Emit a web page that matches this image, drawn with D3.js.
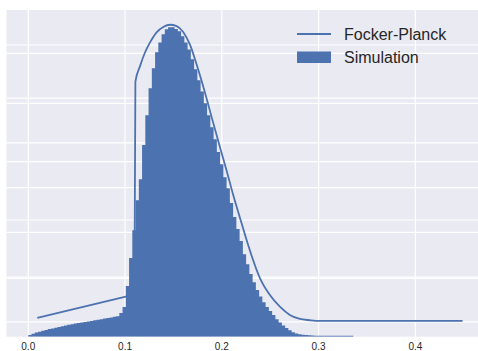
<!DOCTYPE html>
<meta charset="utf-8">
<html>
  <head>
    <style>
      body { margin: 0; background: #fff; }
      text { font-family: "Liberation Sans", Arial, sans-serif; fill: #262626; }
      .tick-label { font-size: 10px; }
      .legend-label { font-size: 16px; }
    </style>
    <script src="https://d3js.org/d3.v7.min.js"></script>
  </head>
  <body>
    <div id="chart"></div>
    <script type="text/javascript">
      // histogram: 100 bins from 0 to 0.336 (density)
      var binStart = 0.0,
          binWidth = 0.00336;
      var simDensity = [
        0.06, 0.10, 0.14, 0.17, 0.20, 0.23, 0.26, 0.28, 0.31, 0.33,
        0.36, 0.38, 0.41, 0.43, 0.45, 0.47, 0.49, 0.50, 0.52, 0.54,
        0.56, 0.58, 0.60, 0.62, 0.64, 0.66, 0.68, 0.70, 0.81, 1.02,
        1.74, 2.70, 3.65, 4.68, 5.40, 6.57, 7.59, 8.52, 9.20, 9.75,
        10.09, 10.37, 10.54, 10.61, 10.61, 10.55, 10.47, 10.30, 10.09, 9.85,
        9.51, 9.17, 8.79, 8.41, 8.00, 7.59, 7.18, 6.77, 6.33, 5.91,
        5.47, 5.09, 4.58, 4.10, 3.69, 3.28, 2.83, 2.48, 2.15, 1.87,
        1.60, 1.38, 1.18, 1.02, 0.88, 0.74, 0.60, 0.49, 0.38, 0.30,
        0.22, 0.15, 0.11, 0.085, 0.07, 0.06, 0.05, 0.04, 0.035, 0.03,
        0.03, 0.03, 0.03, 0.03, 0.03, 0.03, 0.03, 0.03, 0.03, 0.03
      ];

      // Fokker-Planck solution (own y axis)
      var fpX = [0.0093, 0.104, 0.1097, 0.1107, 0.1154, 0.1206, 0.1257, 0.1326, 0.1395, 0.1464,
                 0.1533, 0.1601, 0.1670, 0.1740, 0.1808, 0.1911, 0.1980, 0.2050, 0.2115, 0.2187,
                 0.2249, 0.2308, 0.2394, 0.2497, 0.2600, 0.2703, 0.2807, 0.2910, 0.3013, 0.4488];
      var fpY = [0.089, 0.58, 0.61, 5.37, 5.71, 6.02, 6.24, 6.47, 6.59, 6.64,
                 6.61, 6.48, 6.20, 5.75, 5.26, 4.45, 3.91, 3.38, 2.86, 2.33,
                 1.88, 1.48, 0.98, 0.60, 0.34, 0.157, 0.067, 0.038, 0.022, 0.022];

      var xTicks = [0.0, 0.1, 0.2, 0.3, 0.4],
          histTicks = [2, 4, 6, 8, 10],
          fpTicks = [0, 1, 2, 3, 4, 5, 6];

      var width = 478, height = 351,
          plot = { left: 6.5, right: 485.5, top: 10, bottom: 336.7 },
          blue = "#4c72b0";

      var svg = d3.select("#chart").append("svg")
          .attr("width", width)
          .attr("height", height);

      var x = d3.scaleLinear().domain([-0.0225, 0.4725]).range([plot.left, plot.right]);
      var yHist = d3.scaleLinear().domain([0, 11.2]).range([plot.bottom, plot.top]);
      var yFp = d3.scaleLinear().domain([-0.33, 6.97]).range([plot.bottom, plot.top]);

      svg.append("clipPath").attr("id", "clip")
        .append("rect")
          .attr("x", plot.left).attr("y", plot.top)
          .attr("width", plot.right - plot.left).attr("height", plot.bottom - plot.top);

      svg.append("rect")
          .attr("x", plot.left).attr("y", plot.top)
          .attr("width", plot.right - plot.left).attr("height", plot.bottom - plot.top)
          .style("fill", "#eaeaf2");

      var g = svg.append("g").attr("clip-path", "url(#clip)");

      // grid lines (both y axes draw their own)
      g.selectAll(".xgrid").data(xTicks).enter().append("line")
          .attr("x1", function(d) { return x(d); }).attr("x2", function(d) { return x(d); })
          .attr("y1", plot.top).attr("y2", plot.bottom)
          .style("stroke", "#fff").style("stroke-width", 1.2);

      g.selectAll(".hgrid").data(histTicks).enter().append("line")
          .attr("x1", plot.left).attr("x2", plot.right)
          .attr("y1", function(d) { return yHist(d); }).attr("y2", function(d) { return yHist(d); })
          .style("stroke", "#fff").style("stroke-width", 1.2);

      g.selectAll(".fgrid").data(fpTicks).enter().append("line")
          .attr("x1", plot.left).attr("x2", plot.right)
          .attr("y1", function(d) { return yFp(d); }).attr("y2", function(d) { return yFp(d); })
          .style("stroke", "#fff").style("stroke-width", 1.2);

      // Fokker-Planck line (drawn first, histogram goes on top)
      var fpData = fpX.map(function(d, i) { return [d, fpY[i]]; });
      g.append("path")
          .datum(fpData)
          .attr("d", d3.line()
            .x(function(d) { return x(d[0]); })
            .y(function(d) { return yFp(d[1]); })
            .curve(d3.curveMonotoneX))
          .style("fill", "none")
          .style("stroke", blue)
          .style("stroke-width", 1.8);

      // stepfilled histogram as one polygon
      var steps = simDensity.map(function(d, i) { return [binStart + i * binWidth, d]; });
      steps.push([binStart + simDensity.length * binWidth, simDensity[simDensity.length - 1]]);
      g.append("path")
          .datum(steps)
          .attr("d", d3.area()
            .x(function(d) { return x(d[0]); })
            .y0(yHist(0))
            .y1(function(d) { return yHist(d[1]); })
            .curve(d3.curveStepAfter))
          .style("fill", blue)
          .style("stroke", "none");

      // x tick labels
      svg.selectAll(".tick-label").data(xTicks).enter().append("text")
          .attr("class", "tick-label")
          .attr("x", function(d) { return x(d); })
          .attr("y", 350)
          .style("text-anchor", "middle")
          .text(function(d) { return d.toFixed(1); });

      // legend
      var legend = svg.append("g").attr("transform", "translate(297,0)");
      legend.append("line")
          .attr("x1", 0).attr("x2", 34).attr("y1", 34).attr("y2", 34)
          .style("stroke", blue).style("stroke-width", 1.8);
      legend.append("text").attr("class", "legend-label")
          .attr("x", 47).attr("y", 40).text("Focker-Planck");
      legend.append("rect")
          .attr("x", 0).attr("y", 51.5).attr("width", 34).attr("height", 11.5)
          .style("fill", blue);
      legend.append("text").attr("class", "legend-label")
          .attr("x", 47).attr("y", 63).text("Simulation");
    </script>
  </body>
</html>
